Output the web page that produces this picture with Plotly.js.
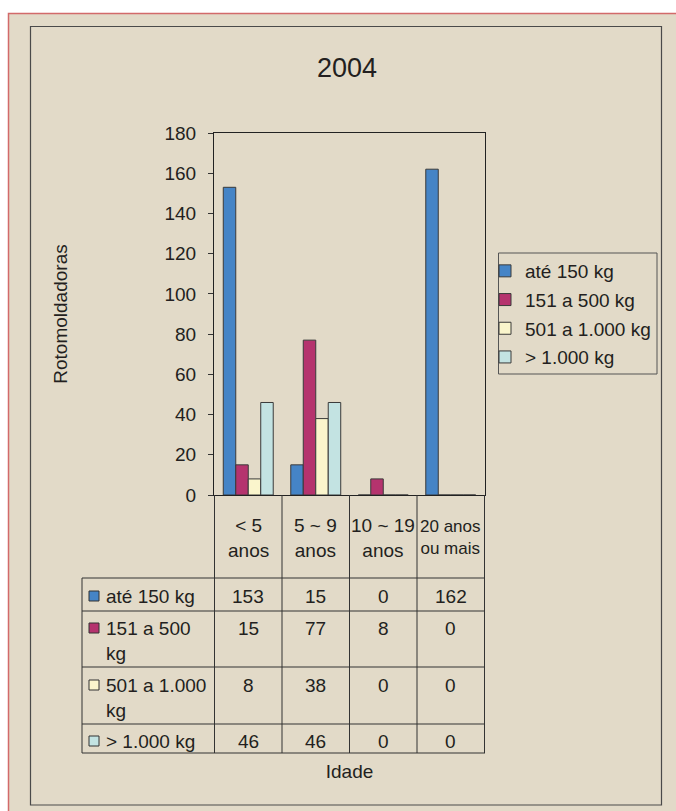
<!DOCTYPE html>
<html><head><meta charset="utf-8">
<script src="https://cdn.plot.ly/plotly-3.0.1.min.js"></script>
<style>html,body{margin:0;padding:0;background:#fff;}#chart{width:676px;height:811px;}</style>
</head><body><div id="chart"></div>
<script>
// ---- data ----
const categories = ['< 5 anos', '5 ~ 9 anos', '10 ~ 19 anos', '20 anos ou mais'];
const categoryLabels = ['&lt; 5<br>anos', '5 ~ 9<br>anos', '10 ~ 19<br>anos', '20 anos<br>ou mais'];
const seriesNames = ['até 150 kg', '151 a 500 kg', '501 a 1.000 kg', '> 1.000 kg'];
const tableRowLabels = ['até 150 kg', '151 a 500<br>kg', '501 a 1.000<br>kg', '&gt; 1.000 kg'];
const ate150 = [153, 15, 0, 162];
const de151a500 = [15, 77, 8, 0];
const de501a1000 = [8, 38, 0, 0];
const acima1000 = [46, 46, 0, 0];
const yTickVals = [0, 20, 40, 60, 80, 100, 120, 140, 160, 180];
const chartTitle = '2004';
const yTitle = 'Rotomoldadoras';
const xTitle = 'Idade';

// ---- style / layout ----
const seriesValues = [ate150, de151a500, de501a1000, acima1000];
const colors = ['#4584c6', '#b5336e', '#faf5cc', '#c3e3e2'];
const catFontSizes = [19, 19, 19, 17];
const W = 676, H = 811, L = 214, R = 485, T = 133, B = 495;
const px = v => (v - L) / (R - L);
const py = v => (B - v) / (B - T);
const FONT = 'Liberation Sans, Arial, Helvetica, sans-serif';
const TXT = '#231f20';
const LINE = '#333333';

const traces = seriesValues.map((vals, i) => ({
  type: 'bar', x: categories, y: vals, name: seriesNames[i],
  legendgroup: 'g' + i,
  marker: {color: colors[i], line: {color: '#3a3a3a', width: 1}},
  hoverinfo: 'skip'
}));

const shapes = [];
// page background and frames
shapes.push({type: 'rect', xref: 'paper', yref: 'paper', layer: 'below',
  x0: px(8.5), x1: px(720), y0: py(13.5), y1: py(840),
  fillcolor: '#e2dac8', line: {color: '#d26a6a', width: 1.5}});
shapes.push({type: 'rect', xref: 'paper', yref: 'paper', layer: 'below',
  x0: px(30.5), x1: px(661.5), y0: py(26.5), y1: py(805),
  fillcolor: 'rgba(0,0,0,0)', line: {color: '#4a4a4a', width: 1.2}});
// legend box
shapes.push({type: 'rect', xref: 'paper', yref: 'paper',
  x0: px(498.5), x1: px(657), y0: py(253), y1: py(374),
  fillcolor: 'rgba(0,0,0,0)', line: {color: '#555', width: 1}});

// table grid
const rowLines = [578, 611, 667, 724, 753];
const tableLeft = 82;
for (let j = 0; j <= categories.length; j++) {
  shapes.push({type: 'line', xref: 'x', yref: 'paper', x0: j - 0.5, x1: j - 0.5,
    y0: py(B), y1: py(rowLines[rowLines.length - 1]), line: {color: LINE, width: 1}});
}
shapes.push({type: 'line', xref: 'paper', yref: 'paper', x0: px(tableLeft), x1: px(tableLeft),
  y0: py(rowLines[0]), y1: py(rowLines[rowLines.length - 1]), line: {color: LINE, width: 1}});
rowLines.forEach(y => shapes.push({type: 'line', xref: 'paper', yref: 'paper',
  x0: px(tableLeft), x1: 1, y0: py(y), y1: py(y), line: {color: LINE, width: 1}}));

const annotations = [];
// category labels
categories.forEach((c, j) => annotations.push({
  xref: 'x', yref: 'paper', x: c, y: py(537.5), text: categoryLabels[j],
  showarrow: false, yanchor: 'middle', font: {family: FONT, size: catFontSizes[j], color: TXT}
}));
// table rows
const rowTextY = [596, 628, 685, 741];
seriesValues.forEach((vals, i) => {
  const nLines = tableRowLabels[i].split('<br>').length;
  annotations.push({xref: 'paper', yref: 'paper', x: px(104), y: py(rowTextY[i] + (nLines - 1) * 12.8),
    text: tableRowLabels[i], showarrow: false, xanchor: 'left', yanchor: 'middle', align: 'left',
    font: {family: FONT, size: 19, color: TXT}});
  shapes.push({type: 'rect', xref: 'paper', yref: 'paper',
    x0: px(89), x1: px(99), y0: py(rowTextY[i] - 5), y1: py(rowTextY[i] + 5),
    fillcolor: colors[i], line: {color: '#333', width: 1}});
  vals.forEach((v, j) => annotations.push({
    xref: 'x', yref: 'paper', x: categories[j], y: py(rowTextY[i]), text: String(v),
    showarrow: false, yanchor: 'middle', font: {family: FONT, size: 19, color: TXT}
  }));
});

const layout = {
  width: W, height: H,
  margin: {l: L, r: W - R, t: T, b: H - B, pad: 0},
  paper_bgcolor: '#ffffff', plot_bgcolor: 'rgba(0,0,0,0)',
  font: {family: FONT, size: 19, color: TXT},
  title: {text: chartTitle, xref: 'container', yref: 'container', x: 347 / W, y: 1 - 68 / H,
    xanchor: 'center', yanchor: 'middle', font: {family: FONT, size: 27, color: TXT}},
  barmode: 'group', bargap: 0.26, bargroupgap: 0,
  showlegend: true,
  legend: {x: px(485), y: py(252), xanchor: 'left', yanchor: 'top', bgcolor: 'rgba(0,0,0,0)',
    borderwidth: 0, font: {family: FONT, size: 19, color: TXT}, tracegroupgap: 1, traceorder: 'grouped'},
  xaxis: {type: 'category', showline: true, mirror: true, linecolor: '#222', linewidth: 1,
    ticks: '', showticklabels: false, showgrid: false, zeroline: false, fixedrange: true,
    automargin: false,
    title: {text: xTitle, standoff: 269, font: {family: FONT, size: 19, color: TXT}}},
  yaxis: {range: [0, 180], tickvals: yTickVals, showline: true, mirror: true, linecolor: '#222', linewidth: 1,
    ticks: 'outside', ticklen: 5, tickcolor: '#333', tickwidth: 1, showgrid: false, zeroline: false,
    ticklabelstandoff: 8, automargin: false, fixedrange: true,
    tickfont: {family: FONT, size: 19, color: TXT},
    title: {text: yTitle, standoff: 91, font: {family: FONT, size: 19, color: TXT}}},
  shapes: shapes,
  annotations: annotations
};

Plotly.newPlot('chart', traces, layout, {displayModeBar: false, staticPlot: true});
</script>
</body></html>
